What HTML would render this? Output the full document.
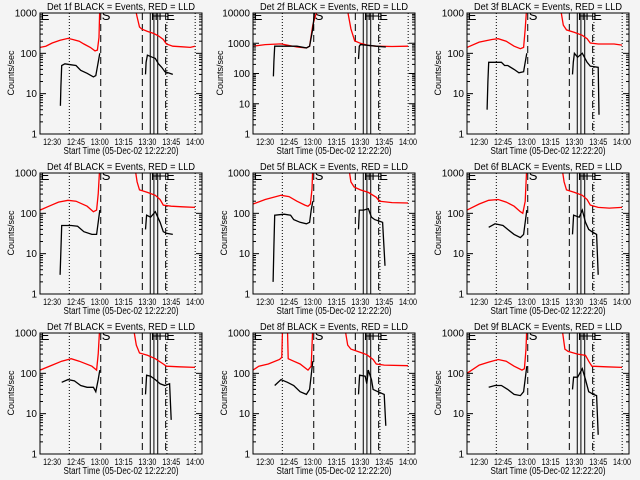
<!DOCTYPE html>
<html><head><meta charset="utf-8"><style>
html,body{margin:0;padding:0;background:#f4f4f4}
svg{display:block;font-family:"Liberation Sans",sans-serif}
</style></head><body>
<svg id="c" width="640" height="480" viewBox="0 0 640 480">
<rect width="640" height="480" fill="#f4f4f4"/>
</svg>
<script>
const detNames = ["1f","2f","3f","4f","5f","6f","7f","8f","9f"];
const yMaxValues = [1000,10000,1000,1000,1000,1000,1000,1000,1000];
const xTickLabels = ["12:30","12:45","13:00","13:15","13:30","13:45","14:00"];
const xTickMinutes = [30,45,60,75,90,105,120];
const markerTimes = [40.8,60.6,86.8,91.8,94.1,96.5,101.5,102.3,120.1];
const markerStyles = ["dot","dash","dash","solid","solid","solid","dash","dot","dot"];
const markerLetters = [["E",22.8],["S",61.2],["F",92.2],["F",94.5],["F",96.9],["E",101.9]];
const redSeries = [
 [[22.3,140],[26,150],[30,180],[35,210],[40,235],[43,220],[47,200],[50,170],[54,140],[57,115],[58.5,120],[59.5,250],[60,1500],[82,1500],[83.5,800],[85,450],[86.5,400],[90,350],[94,310],[97,270],[100,220],[102,170],[106,150],[112,145],[117,140],[120,150]],
 [[22.3,800],[30,900],[40,950],[50,750],[56,700],[58,800],[60,4000],[62.2,10000],[63,15000],[81,15000],[82.2,10000],[84,3000],[86.4,1200],[90,1000],[95,850],[100,800],[110,780],[120,800]],
 [[22.3,140],[30,190],[38,220],[42,230],[47,200],[52,150],[56,130],[58,140],[59,400],[60,1500],[81,1500],[83,500],[85,380],[90,330],[95,280],[98,230],[100,180],[105,170],[115,170],[120,160]],
 [[22.3,120],[28,150],[34,190],[40,210],[45,200],[52,150],[56,110],[58,120],[59,300],[60,1500],[82,1500],[83.5,600],[85,380],[90,330],[95,280],[98,220],[100,160],[105,150],[112,145],[120,140]],
 [[22.3,170],[30,220],[40,280],[45,260],[50,200],[55,160],[57,150],[58.5,170],[59.5,400],[60,1500],[82.5,1500],[84,600],[86,450],[90,380],[95,330],[100,250],[102,200],[110,185],[120,180]],
 [[22.3,120],[30,170],[36,210],[42,220],[47,190],[52,150],[56,110],[57.5,100],[59,200],[60,1500],[82,1500],[83.5,600],[85,380],[90,330],[95,280],[98,220],[100,160],[105,140],[112,135],[120,140]],
 [[22.3,120],[30,160],[36,200],[42,230],[47,200],[55,150],[58,120],[59,300],[60,1500],[81,1500],[83,500],[85,320],[90,280],[95,230],[100,170],[102,150],[110,145],[120,140]],
 [[22.3,120],[26,150],[32,170],[39,220],[40.5,250],[41,1500],[44,1500],[44.5,230],[48,200],[52,170],[57,120],[59,150],[60,1500],[80,1500],[82,500],[84,400],[90,330],[94,290],[98,220],[100,170],[105,160],[120,155]],
 [[22.3,100],[30,160],[36,190],[42,220],[47,200],[52,150],[57,120],[58.5,130],[59.5,400],[60,1500],[82,1500],[84,400],[86,350],[92,300],[97,280],[99,200],[101,150],[110,145],[120,140]]
];
const blackSeries = [
 [[35.2,5],[35.5,15],[36,50],[38,55],[42,52],[45,50],[48,38],[52,32],[56,26],[57.5,28],[59,60],[60,100],null,[88.8,30],[89.2,60],[90,90],[93,80],[95,75],[97,55],[99,45],[101,35],[104,32],[106,30]],
 [[35.2,80],[35.5,250],[36,800],[50,800],[56,700],[58,800],[60,3000],[61,10000],[63,12000],null,[88.8,300],[89.3,800],[90,900],[100,800],[106,750]],
 [[35,4],[35.5,20],[36,60],[44,60],[46,50],[48,50],[52,40],[55,33],[58,35],[59,60],[60,100],null,[88.8,30],[89.3,60],[90,100],[92,80],[95,100],[98,60],[100,48],[105,45],[105.5,3]],
 [[35,3],[35.5,12],[36,50],[42,50],[46,48],[50,35],[55,30],[58,30],[59,60],[60,120],null,[88.8,40],[89.5,90],[92,80],[95,110],[98,60],[100,35],[102,32],[106,30]],
 [[35,2],[35.5,15],[36,90],[42,95],[46,90],[48,70],[52,60],[56,55],[58,60],[59,120],[60,200],null,[88.8,40],[89.3,120],[92,120],[95,130],[97,80],[99,70],[104,60],[105.5,5]],
 [[36,45],[40,55],[45,50],[48,40],[52,30],[56,25],[58,30],[60,120],null,[88.8,30],[89.5,90],[93,80],[95,120],[97,60],[99,40],[101,35],[104,30],[105,3]],
 [[36,60],[40,70],[44,65],[48,50],[52,45],[56,45],[57.5,35],[59,70],[60,120],null,[88.8,30],[89.5,90],[92,85],[95,70],[98,55],[101,50],[104,55],[105,7]],
 [[36,50],[40,70],[44,60],[48,50],[52,35],[56,30],[58,40],[60,200],null,[88.8,30],[89.5,90],[93,85],[94,55],[95,120],[97,70],[98,40],[101,35],[105,30],[106,5]],
 [[36,45],[40,50],[44,50],[48,40],[52,30],[56,28],[58,35],[60,150],null,[88.8,40],[89.5,80],[92,80],[95,130],[97,70],[99,35],[102,30],[104,28],[105,3]]
];
const NS="http://www.w3.org/2000/svg";
const svg=document.getElementById('c');
function mk(tag,attrs,parent){const e=document.createElementNS(NS,tag);for(const k in attrs)e.setAttribute(k,attrs[k]);(parent||svg).appendChild(e);return e;}
const colLeft=[40,253,467], rowTop=[13,173,333], PW=162, PH=121;
const T0=22.33, T1=124.4;
for(let p=0;p<9;p++){
  const L=colLeft[p%3], T=rowTop[Math.floor(p/3)], B=T+PH, R=L+PW;
  const ymax=yMaxValues[p], dec=Math.round(Math.log10(ymax));
  const xs=t=>L+(t-T0)/(T1-T0)*PW;
  const ys=v=>B-Math.log10(Math.max(v,1e-3))/dec*PH;
  const g=mk('g',{});
  
  
  const cp=mk('clipPath',{id:'cp'+p},g); mk('rect',{x:L,y:T,width:PW,height:PH},cp);
  const title=mk('text',{x:(L+R)/2,y:T-3,'text-anchor':'middle','font-size':10.5,textLength:148,lengthAdjust:'spacingAndGlyphs'},g);
  title.textContent='Det '+detNames[p]+' BLACK = Events, RED = LLD';
  
  
  // markers
  for(let i=0;i<markerTimes.length;i++){
    const x=xs(markerTimes[i]);
    const st=markerStyles[i];
    const ln=mk('line',{x1:x,x2:x,y1:T,y2:B,stroke:'#000','stroke-width':1,'stroke-dasharray':st=='dot'?'1,2':st=='dash'?'7,4':'none'},g);
    
    
  }
  for(const [ch,t] of markerLetters){
    const tx=mk('text',{x:xs(t),y:T+7,'font-size':13,'clip-path':'url(#cp'+p+')'},g);
    tx.textContent=ch;
    
    
  }
  // series
  function path(series){let d='',pen=false;for(const pt of series){if(!pt){pen=false;continue;}d+=(pen?'L':'M')+xs(pt[0]).toFixed(1)+','+ys(pt[1]).toFixed(1);pen=true;}return d;}
  const rp=mk('path',{d:path(redSeries[p]),fill:'none',stroke:'#ff0000','stroke-width':1.3,'clip-path':'url(#cp'+p+')'},g);
  
  
  const bp=mk('path',{d:path(blackSeries[p]),fill:'none',stroke:'#000','stroke-width':1.3,'clip-path':'url(#cp'+p+')'},g);
  
  
  // frame
  const fr=mk('rect',{x:L,y:T,width:PW,height:PH,fill:'none',stroke:'#000','stroke-width':1},g);
  
  
  // y ticks
  for(let d=0;d<=dec;d++){
    const y=ys(Math.pow(10,d));
    mk('line',{x1:L,x2:L+6,y1:y,y2:y,stroke:'#000'},g);
    mk('line',{x1:R-6,x2:R,y1:y,y2:y,stroke:'#000'},g);
    const lb=mk('text',{x:L-3,y:y+3.5,'text-anchor':'end','font-size':10},g);
    lb.textContent=String(Math.pow(10,d));
    
    
    if(d<dec){for(let m=2;m<=9;m++){const ym=ys(m*Math.pow(10,d));
      mk('line',{x1:L,x2:L+3,y1:ym,y2:ym,stroke:'#000'},g);
      mk('line',{x1:R-3,x2:R,y1:ym,y2:ym,stroke:'#000'},g);}}
  }
  for(let i=0;i<xTickLabels.length;i++){
    const lb=mk('text',{x:xs(xTickMinutes[i]),y:B+11,'text-anchor':'middle','font-size':9.5,textLength:18,lengthAdjust:'spacingAndGlyphs'},g);
    lb.textContent=xTickLabels[i];
    
    
  }
  const xt=mk('text',{x:L+81,y:B+20,'text-anchor':'middle','font-size':10,textLength:115,lengthAdjust:'spacingAndGlyphs'},g);
  xt.textContent='Start Time (05-Dec-02 12:22:20)';
  
  
  const cx=L-(dec==4?30:26), cy=T+60;
  const yt=mk('text',{x:cx,y:cy,'text-anchor':'middle','font-size':9,transform:'rotate(-90 '+cx+' '+cy+')'},g);
  yt.textContent='Counts/sec';
  
  
}
</script>
</body></html>
